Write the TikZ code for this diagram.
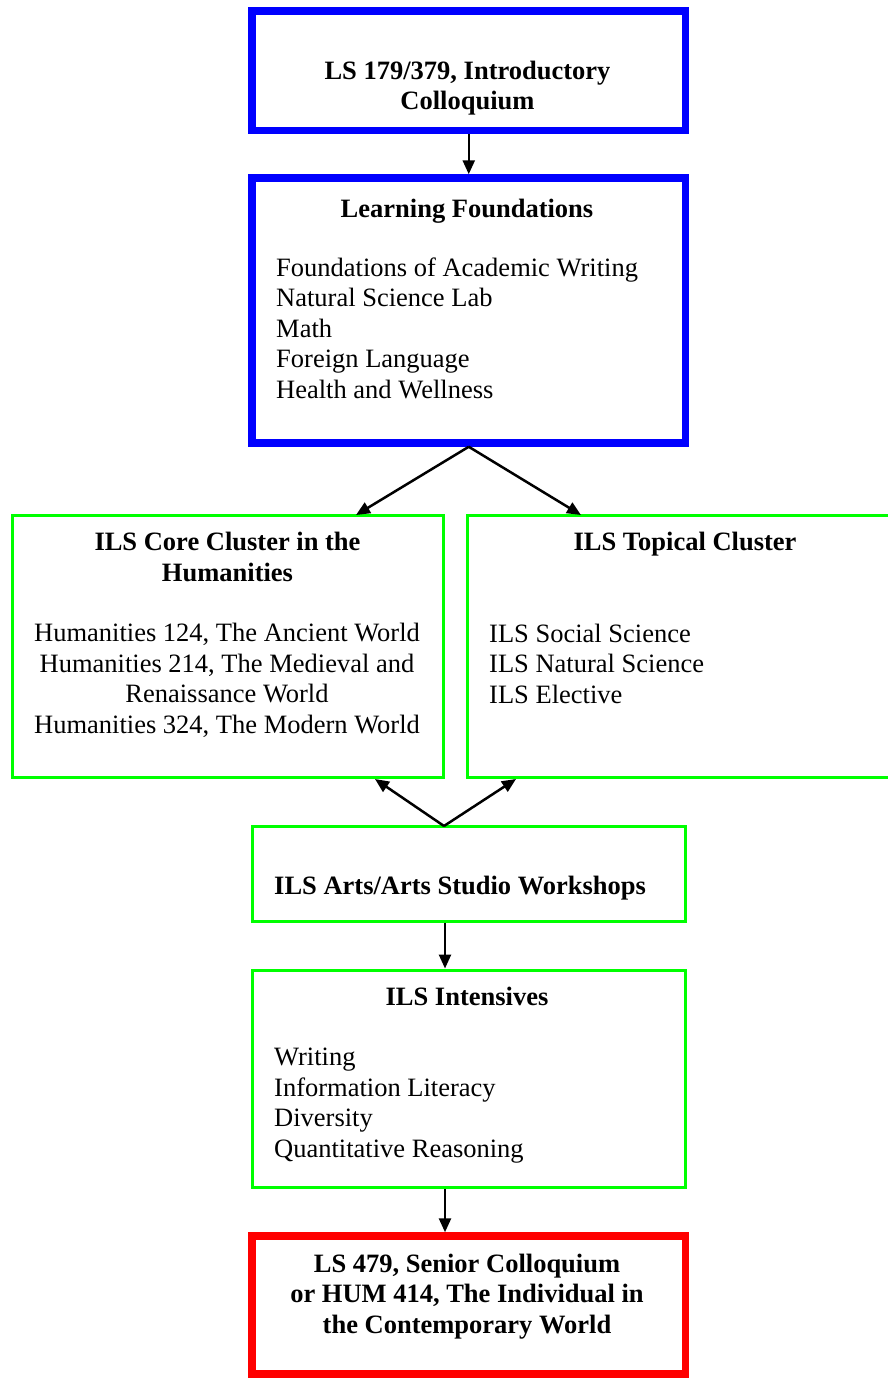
\documentclass[tikz,border=0pt]{standalone}
\usepackage{fontspec}
\setmainfont{Liberation Serif}
\usetikzlibrary{arrows.meta}
\definecolor{bxblue}{RGB}{0,0,255}
\definecolor{bxgreen}{RGB}{0,255,0}
\definecolor{bxred}{RGB}{255,0,0}
\begin{document}
\begin{tikzpicture}[x=1pt,y=-1pt,
  box/.style={draw,rectangle,inner sep=0pt,fill=none},
  thickbox/.style={box,line width=7.5pt},
  thinbox/.style={box,draw=bxgreen,line width=3pt},
  txt/.style={inner sep=0pt,font=\fontsize{26.5}{30.5}\selectfont},
  hd/.style={txt,font=\fontsize{26.5}{30.5}\selectfont\bfseries,align=center,anchor=base},
  lst/.style={txt,align=left,anchor=base west},
  arr/.style={line width=2.5pt,-{Triangle[length=14pt,width=12pt]}}]
\useasboundingbox[fill=white] (0,0) rectangle (887,1378);
% boxes
\node[thickbox,draw=bxblue,minimum width=433.5pt,minimum height=119.5pt] (b1) at (468.75,70.75) {};
\node[thickbox,draw=bxblue,minimum width=433.5pt,minimum height=265pt] (b2) at (468.75,310.5) {};
\node[thinbox,minimum width=431.5pt,minimum height=262pt] (core) at (227.75,646) {};
\node[thinbox,minimum width=423pt,minimum height=262pt] (top) at (678.5,646) {};
\node[thinbox,minimum width=433pt,minimum height=95pt] (arts) at (468.5,873.5) {};
\node[thinbox,minimum width=433pt,minimum height=217pt] (intens) at (468.5,1078.5) {};
\node[thickbox,draw=bxred,minimum width=433.5pt,minimum height=138pt] (red) at (468.75,1305) {};
% texts (multi-line nodes are anchored at the baseline of their last line)
\node[hd] (t1) at (467.5,110) {LS 179/379, Introductory\\Colloquium};
\node[hd] (t2) at (467,217) {Learning Foundations};
\node[lst] (l2) at (276,398) {Foundations of Academic Writing\\Natural Science Lab\\Math\\Foreign Language\\Health and Wellness};
\node[hd] (t3) at (227.5,581) {ILS Core Cluster in the\\Humanities};
\node[txt,align=center,anchor=base] (l3) at (227,733) {Humanities 124, The Ancient World\\Humanities 214, The Medieval and\\Renaissance World\\Humanities 324, The Modern World};
\node[hd] (t4) at (685,550) {ILS Topical Cluster};
\node[lst] (l4) at (489,703) {ILS Social Science\\ILS Natural Science\\ILS Elective};
\node[hd,anchor=base west] (t5) at (274,894) {ILS Arts/Arts Studio Workshops};
\node[hd] (t6) at (467,1005.5) {ILS Intensives};
\node[lst] (l6) at (274,1157) {Writing\\Information Literacy\\Diversity\\Quantitative Reasoning};
\node[hd] (t7) at (467,1333) {LS 479, Senior Colloquium\\or HUM 414, The Individual in\\the Contemporary World};
% connectors
\coordinate (cl) at (356,515);
\coordinate (cr) at (581,515);
\coordinate (apex) at (444,826);
\coordinate (ul) at (375,779);
\coordinate (ur) at (516,779);
\coordinate (ax) at (445,0);
\draw[arr] (b1.south) -- (b2.north);
\draw[arr] (b2.south) -- (cl);
\draw[arr] (b2.south) -- (cr);
\draw[arr] (apex) -- (ul);
\draw[arr] (apex) -- (ur);
\draw[arr] (arts.south -| ax) -- (intens.north -| ax);
\draw[arr] (intens.south -| ax) -- (red.north -| ax);
\end{tikzpicture}
\end{document}
